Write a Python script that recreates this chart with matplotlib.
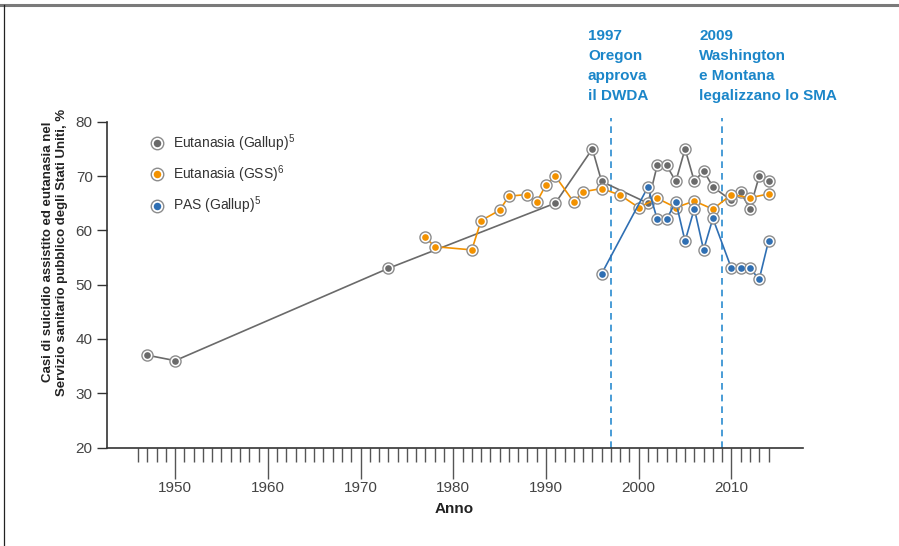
import numpy as np
import matplotlib
matplotlib.use("Agg")
import matplotlib.pyplot as plt
from matplotlib.lines import Line2D
from matplotlib.legend_handler import HandlerTuple

plt.rcParams['font.family'] = ['Liberation Sans', 'DejaVu Sans']
plt.rcParams['mathtext.fontset'] = 'custom'
plt.rcParams['mathtext.rm'] = 'Liberation Sans'
plt.rcParams['mathtext.it'] = 'Liberation Sans'
plt.rcParams['mathtext.bf'] = 'Liberation Sans:bold'

# Data
gallup_years = [1947, 1950, 1973, 1991, 1995, 1996, 2001, 2002, 2003, 2004, 2005,
                2006, 2007, 2008, 2010, 2011, 2012, 2013, 2014]
gallup_vals = [37, 36, 53, 65, 75, 69, 65, 72, 72, 69, 75,
               69, 71, 68, 65.5, 67, 64, 70, 69]

gss_years = [1977, 1978, 1982, 1983, 1985, 1986, 1988, 1989, 1990, 1991, 1993,
             1994, 1996, 1998, 2000, 2002, 2004, 2006, 2008, 2010, 2012, 2014]
gss_vals = [58.7, 57, 56.4, 61.8, 63.7, 66.3, 66.6, 65.2, 68.4, 70, 65.2,
            67.1, 67.7, 66.5, 64.2, 65.9, 64.2, 65.4, 63.9, 66.6, 66, 66.7]

pas_years = [1996, 2001, 2002, 2003, 2004, 2005, 2006, 2007, 2008, 2010, 2011,
             2012, 2013, 2014]
pas_vals = [52, 68, 62, 62, 65.3, 58, 64, 56.4, 62.2, 53, 53, 53, 51, 58]

labels = ['Eutanasia (Gallup)$^{5}$', 'Eutanasia (GSS)$^{6}$', 'PAS (Gallup)$^{5}$']
colors = ['#6a6a6a', '#f39200', '#2f6fb3']

events = [1997, 2009]
event_texts = ['1997\nOregon\napprova\nil DWDA',
               '2009\nWashington\ne Montana\nlegalizzano lo SMA']

ring_col = '#8c8c8c'
ring_ms = 8.0
dot_ms = 4.8

fig = plt.figure(figsize=(8.99, 5.46), dpi=100)
ax = fig.add_axes([0.1185, 0.1804, 0.7745, 0.5966])

handles = []
series = [(gallup_years, gallup_vals), (gss_years, gss_vals), (pas_years, pas_vals)]
for k, (xs, ys) in enumerate(series):
    ax.plot(xs, ys, color=colors[k], lw=1.2, zorder=2 + k)
    ax.plot(xs, ys, ls='none', marker='o', ms=ring_ms, mfc='white', mec=ring_col,
            mew=1.0, zorder=2.1 + k)
    ax.plot(xs, ys, ls='none', marker='o', ms=dot_ms, mfc=colors[k], mec='none',
            zorder=2.2 + k)
    h_ring = Line2D([], [], ls='none', marker='o', ms=ring_ms + 1, mfc='white',
                    mec=ring_col, mew=1.0)
    h_dot = Line2D([], [], ls='none', marker='o', ms=dot_ms + 0.6, mfc=colors[k], mec='none')
    handles.append((h_ring, h_dot))

# vertical event lines and notes
for yr, txt in zip(events, event_texts):
    ax.plot([yr, yr], [20, 80.7], color='#2a8bd0', lw=1.2, ls=(0, (4, 3)),
            clip_on=False, zorder=1)
    ax.annotate(txt, xy=(yr, 80), xytext=(-23, 93), textcoords='offset pixels',
                ha='left', va='top', fontsize=11, fontweight='bold',
                color='#1b86c9', linespacing=1.55, annotation_clip=False)

leg = ax.legend(handles, labels, handler_map={tuple: HandlerTuple(ndivide=1)},
                loc='upper left', bbox_to_anchor=(0.055, 0.985), frameon=False,
                fontsize=10, handlelength=0.9, handletextpad=0.7,
                labelspacing=0.7, borderaxespad=0)
for t in leg.get_texts():
    t.set_color('#333333')

ax.set_xlim(1942.6, 2017.7)
ax.set_ylim(20, 80)
ax.set_yticks(np.arange(20, 81, 10))
ax.set_xticks(np.arange(1950, 2011, 10))
ax.set_xticks(np.arange(1946, 2015, 1), minor=True)

for s in ['top', 'right']:
    ax.spines[s].set_visible(False)
for s in ['left', 'bottom']:
    ax.spines[s].set_color('#333333')
    ax.spines[s].set_linewidth(1.2)

ax.tick_params(axis='y', length=7, width=1, color='#333333', labelsize=11,
               labelcolor='#444444', pad=3)
ax.tick_params(axis='x', which='major', length=22, width=1, color='#555555',
               labelsize=11, labelcolor='#444444', pad=2)
ax.tick_params(axis='x', which='minor', length=10, width=1, color='#555555')

ax.set_xlabel('Anno', fontsize=11, fontweight='bold', color='#222222', labelpad=5)
fig.text(55 / 899, 1 - 252 / 546,
         'Casi di suicidio assistito ed eutanasia nel\n'
         'Servizio sanitario pubblico degli Stati Uniti, %',
         rotation=90, ha='center', va='center', fontsize=9.5, fontweight='bold',
         color='#222222', linespacing=1.3)

# frame of the original panel
fig.add_artist(Line2D([0, 1], [1 - 4.5 / 546, 1 - 4.5 / 546], color='#7a7a7a', lw=2.2))
fig.add_artist(Line2D([3.5 / 899, 3.5 / 899], [0, 1 - 4.5 / 546], color='#222222', lw=0.9))

fig.savefig('out.png', dpi=100)
